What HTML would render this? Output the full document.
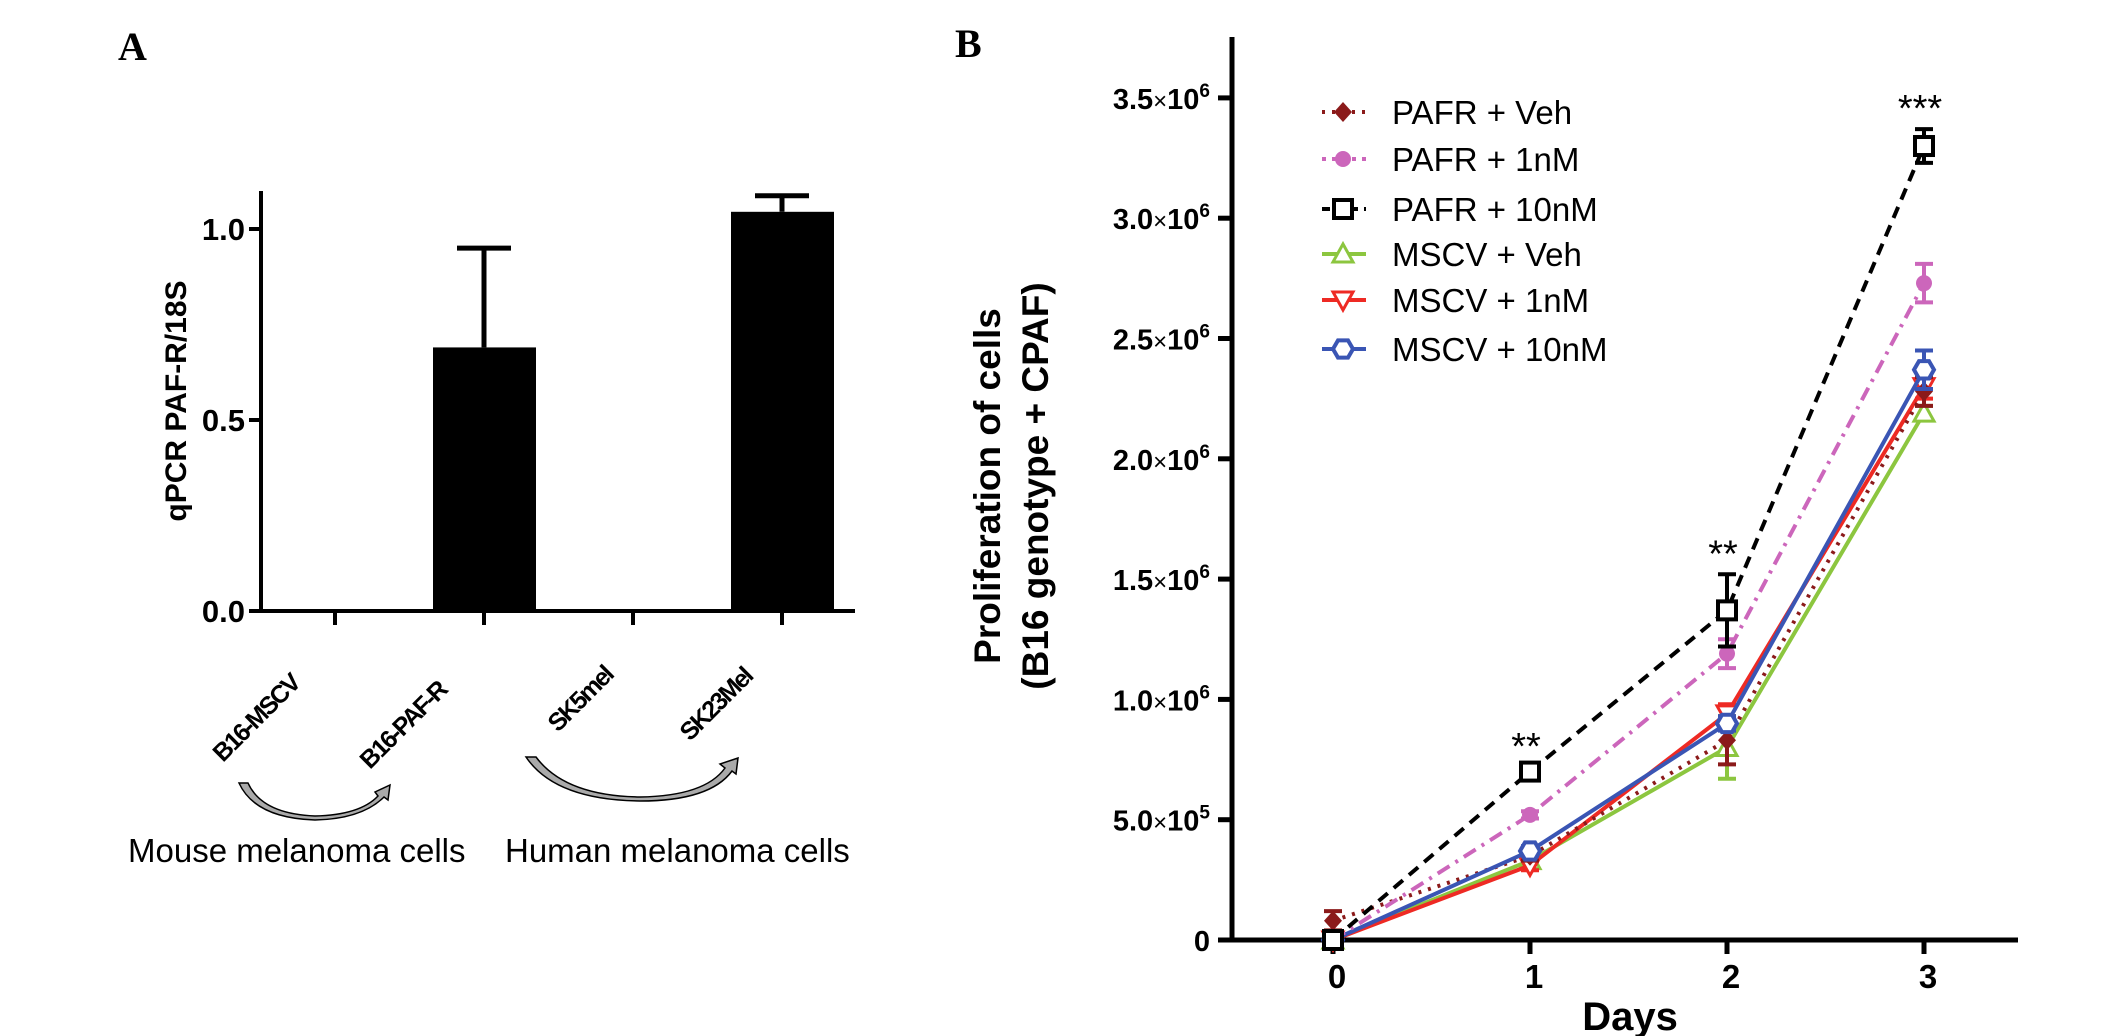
<!DOCTYPE html>
<html><head><meta charset="utf-8"><style>
html,body{margin:0;padding:0;background:#fff;}
svg{display:block;font-family:"Liberation Sans",Arial,sans-serif;}
</style></head><body>
<svg id="fig" width="2126" height="1036" viewBox="0 0 2126 1036" xmlns="http://www.w3.org/2000/svg">
<text x="118" y="60" font-family="Liberation Serif,serif" font-weight="bold" font-size="40">A</text>
<text x="955" y="57" font-family="Liberation Serif,serif" font-weight="bold" font-size="40">B</text>
<g id="panelA"></g>
<g id="panelB"></g>
</svg>
<script>
// ---------- Panel A data ----------
var barCategories = ["B16-MSCV","B16-PAF-R","SK5mel","SK23Mel"];
var barValues = [0, 0.69, 0, 1.045];
var barErrors = [0, 0.26, 0, 0.042];
var barTicks = [0.0, 0.5, 1.0];

// ---------- Panel B data ----------
var days = [0,1,2,3];
var seriesNames = ["PAFR + Veh","PAFR + 1nM","PAFR + 10nM","MSCV + Veh","MSCV + 1nM","MSCV + 10nM"];
var sPafrVeh   = [80000, 350000, 830000, 2280000];
var sPafr1     = [0, 520000, 1190000, 2730000];
var sPafr10    = [0, 700000, 1370000, 3300000];
var sMscvVeh   = [0, 330000, 800000, 2190000];
var sMscv1     = [0, 310000, 940000, 2300000];
var sMscv10    = [0, 370000, 900000, 2370000];
var ePafrVeh   = [40000, 20000, 100000, 60000];
var ePafr1     = [0, 15000, 60000, 80000];
var ePafr10    = [0, 20000, 150000, 70000];
var eMscvVeh   = [0, 20000, 130000, 30000];
var eMscv1     = [0, 20000, 40000, 50000];
var eMscv10    = [0, 20000, 30000, 80000];
var yTickValues = [0, 500000, 1000000, 1500000, 2000000, 2500000, 3000000, 3500000];
var yTickMantissa = ["0","5.0","1.0","1.5","2.0","2.5","3.0","3.5"];
var yTickExp = ["","5","6","6","6","6","6","6"];
var sigLabels = ["", "**", "**", "***"];

var NS="http://www.w3.org/2000/svg";
function mk(parent, tag, attrs, text){
  var e=document.createElementNS(NS,tag);
  for(var k in attrs) e.setAttribute(k,attrs[k]);
  if(text!==undefined) e.textContent=text;
  parent.appendChild(e); return e;
}

// ---------- Panel A ----------
(function(){
  var g=document.getElementById('panelA');
  var x0=261, y0=611, yTop=191, perUnit=382;
  function ya(v){return y0 - v*perUnit;}
  function xa(i){return 335 + i*149;}
  var ax=mk(g,'line',{x1:x0,y1:yTop,x2:x0,y2:y0+2,stroke:'#000','stroke-width':4});
   
  var xx=mk(g,'line',{x1:x0-2,y1:y0,x2:855,y2:y0,stroke:'#000','stroke-width':4});
   
  barTicks.forEach(function(t){
    var l=mk(g,'line',{x1:x0-12,y1:ya(t),x2:x0,y2:ya(t),stroke:'#000','stroke-width':4});
     
    var tx=mk(g,'text',{x:x0-16,y:ya(t)+11,'text-anchor':'end','font-weight':'bold','font-size':31},t.toFixed(1));
     
  });
  var yt=mk(g,'text',{x:0,y:0,'text-anchor':'middle','font-weight':'bold','font-size':30,transform:'translate(186,401) rotate(-90)'},'qPCR PAF-R/18S');
   
  barCategories.forEach(function(c,i){
    var cx=xa(i);
    var tk=mk(g,'line',{x1:cx,y1:y0,x2:cx,y2:y0+14,stroke:'#000','stroke-width':4});
     
    if(barValues[i]>0){
      var r=mk(g,'rect',{x:cx-51,y:ya(barValues[i]),width:103,height:y0-ya(barValues[i]),fill:'#000'});
       
      var top=ya(barValues[i]+barErrors[i]);
      var el=mk(g,'path',{d:'M'+cx+' '+ya(barValues[i])+'V'+top+'M'+(cx-27)+' '+top+'H'+(cx+27),stroke:'#000','stroke-width':5,fill:'none'});
       
    }
  });
  var labelPos=[[223,763],[370,770],[558,733],[690,742]];
  barCategories.forEach(function(c,i){
    var t=mk(g,'text',{x:0,y:0,'font-weight':'bold','font-size':25,'letter-spacing':'-2',transform:'translate('+labelPos[i][0]+','+labelPos[i][1]+') rotate(-45)'},c);
     
  });
  function arrow(d,name){
    var p=mk(g,'path',{d:d,fill:'#aaa',stroke:'#000','stroke-width':1.5});
     
  }
  arrow('M239 783 L248 783 Q262 814 315 816 Q360 815 378 796 L375 792 L390 785 L388 800 L384 797 Q362 819 315 820 Q255 818 239 783 Z','mouse-arrow');
  arrow('M526 757 L536 757 Q565 796 640 797 Q705 796 725 768 L720 764 L738 758 L736 774 L732 771 Q710 801 640 801 Q555 800 526 757 Z','human-arrow');
  var m=mk(g,'text',{x:128,y:862,'font-size':33},'Mouse melanoma cells');
   
  var h=mk(g,'text',{x:505,y:862,'font-size':33},'Human melanoma cells');
   
})();

// ---------- Panel B ----------
(function(){
  var g=document.getElementById('panelB');
  var x0=1232, y0=940, yTop=37, per=120.3/500000;
  function yb(v){return y0 - v*per;}
  function xb(d){return 1333 + d*197;}
  var ax=mk(g,'line',{x1:x0,y1:yTop,x2:x0,y2:y0+2,stroke:'#000','stroke-width':5});
   
  var xx=mk(g,'line',{x1:x0-2,y1:y0,x2:2018,y2:y0,stroke:'#000','stroke-width':5});
   
  yTickValues.forEach(function(v,i){
    var y=yb(v);
    var l=mk(g,'line',{x1:x0-14,y1:y,x2:x0,y2:y,stroke:'#000','stroke-width':5});
     
    var t=mk(g,'text',{x:x0-22,y:y+11,'text-anchor':'end','font-weight':'bold','font-size':29});
     
    if(yTickExp[i]===''){ t.textContent=yTickMantissa[i]; }
    else{
      var a=mk(t,'tspan',{},yTickMantissa[i]);
      var b=mk(t,'tspan',{'font-weight':'normal','font-size':24},'\u00d7');
      var c=mk(t,'tspan',{},'10');
      var d=mk(t,'tspan',{dy:-12,'font-size':19},yTickExp[i]);
    }
  });
  days.forEach(function(d){
    var l=mk(g,'line',{x1:xb(d),y1:y0,x2:xb(d),y2:y0+14,stroke:'#000','stroke-width':5});
     
    var t=mk(g,'text',{x:xb(d)+4,y:988,'text-anchor':'middle','font-weight':'bold','font-size':33},String(d));
     
  });
  var dt=mk(g,'text',{x:1630,y:1030,'text-anchor':'middle','font-weight':'bold','font-size':40},'Days');
   
  var yt1=mk(g,'text',{x:0,y:0,'text-anchor':'middle','font-weight':'bold','font-size':37,transform:'translate(1000,486) rotate(-90)'},'Proliferation of cells');
   
  var yt2=mk(g,'text',{x:0,y:0,'text-anchor':'middle','font-weight':'bold','font-size':37,transform:'translate(1048,486) rotate(-90)'},'(B16 genotype + CPAF)');
   

  var allS=[sPafrVeh,sPafr1,sPafr10,sMscvVeh,sMscv1,sMscv10];
  var allE=[ePafrVeh,ePafr1,ePafr10,eMscvVeh,eMscv1,eMscv10];
  var colors=['#8b1a1a','#cc66bb','#000000','#8cc63f','#ee2a24','#3a55b4'];
  var dashes=['3,7','14,7,3,7','12,8','','',''];
  var markers=['diamond','circle','square','triangle','invtriangle','hexagon'];
  function marker(parent,type,x,y,col){
    var e;
    if(type==='diamond') e=mk(parent,'path',{d:'M'+x+' '+(y-10)+'L'+(x+9)+' '+y+'L'+x+' '+(y+10)+'L'+(x-9)+' '+y+'Z',fill:col});
    else if(type==='circle') e=mk(parent,'circle',{cx:x,cy:y,r:8,fill:col});
    else if(type==='square') e=mk(parent,'rect',{x:x-9,y:y-9,width:18,height:18,fill:'#fff',stroke:col,'stroke-width':4});
    else if(type==='triangle') e=mk(parent,'path',{d:'M'+x+' '+(y-10)+'L'+(x+10)+' '+(y+8)+'L'+(x-10)+' '+(y+8)+'Z',fill:'#fff',stroke:col,'stroke-width':3});
    else if(type==='invtriangle') e=mk(parent,'path',{d:'M'+x+' '+(y+10)+'L'+(x+10)+' '+(y-8)+'L'+(x-10)+' '+(y-8)+'Z',fill:'#fff',stroke:col,'stroke-width':3});
    else { var p=''; for(var k=0;k<6;k++){var a=Math.PI/3*k; p+=(k?'L':'M')+(x+10*Math.cos(a))+' '+(y+10*Math.sin(a));} e=mk(parent,'path',{d:p+'Z',fill:'#fff',stroke:col,'stroke-width':4}); }
     
  }
  var order=[3,4,0,5,1,2];
  order.forEach(function(si){
    var s=allS[si], er=allE[si], col=colors[si];
    var sg=mk(g,'g',{});
    
    
    var d=''; days.forEach(function(dd,i){d+=(i?'L':'M')+xb(dd)+' '+yb(s[i]);});
    var ln=mk(sg,'path',{d:d,fill:'none',stroke:col,'stroke-width':4});
    if(dashes[si]) ln.setAttribute('stroke-dasharray',dashes[si]);
     
    days.forEach(function(dd,i){
      if(er[i]>0){
        var x=xb(dd), a=yb(s[i]+er[i]), b=yb(s[i]-er[i]);
        var eb=mk(sg,'path',{d:'M'+x+' '+a+'V'+b+'M'+(x-9)+' '+a+'H'+(x+9)+'M'+(x-9)+' '+b+'H'+(x+9),stroke:col,'stroke-width':4,fill:'none'});
         
      }
      marker(sg,markers[si],xb(dd),yb(s[i]),col);
    });
  });
  days.forEach(function(dd,i){
    if(sigLabels[i]){
      var top=sPafr10[i]+ePafr10[i];
      var t=mk(g,'text',{x:xb(dd)-4,y:yb(top)-8,'text-anchor':'middle','font-size':38},sigLabels[i]);
       
    }
  });
  var lg=mk(g,'g',{});
   
  var rows=[112,159,209,254,300,349];
  seriesNames.forEach(function(n,i){
    var y=rows[i];
    var ln=mk(lg,'line',{x1:1322,y1:y,x2:1366,y2:y,stroke:colors[i],'stroke-width':4});
    if(dashes[i]) ln.setAttribute('stroke-dasharray',dashes[i]==='12,8'?'8,6':(dashes[i]==='14,7,3,7'?'4,6':dashes[i]));
     
    marker(lg,markers[i],1343,y,colors[i]);
    var t=mk(lg,'text',{x:1392,y:y+12,'font-size':33},n);
     
  });
})();
</script>
</body></html>
